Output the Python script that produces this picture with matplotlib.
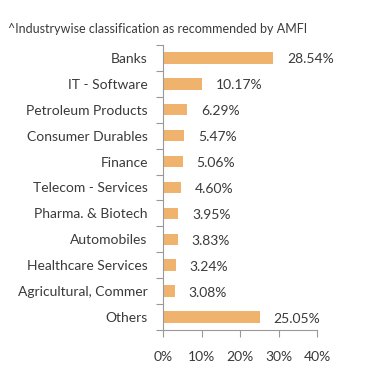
import matplotlib.pyplot as plt
import numpy as np

# sector allocation (%), top to bottom
sectors = ["Banks", "IT - Software", "Petroleum Products", "Consumer Durables",
           "Finance", "Telecom - Services", "Pharma. & Biotech", "Automobiles",
           "Healthcare Services", "Agricultural, Commer", "Others"]
weights = [28.54, 10.17, 6.29, 5.47, 5.06, 4.60, 3.95, 3.83, 3.24, 3.08, 25.05]
xticks = [0, 10, 20, 30, 40]

plt.rcParams['font.family'] = ['Lato', 'DejaVu Sans']
txt = '#3a3a3a'
grey = '#999999'

fig = plt.figure(figsize=(3.91, 3.83), dpi=100)
ax = fig.add_axes([0.417, 0.138, 0.394, 0.745])

y = np.arange(len(sectors))
ax.barh(y, weights, height=0.45, color='#F0B36E')
for yi, w in zip(y, weights):
    ax.annotate(f"{w:.2f}%", (w, yi), xytext=(10, -1), textcoords='offset points',
                va='center', ha='left', fontsize=10, color=txt)

ax.set_ylim(len(sectors) - 0.5, -0.5)
ax.set_xlim(0, 40)

# category ticks sit on the boundaries between bars
ax.set_yticks(np.arange(len(sectors) + 1) - 0.5)
ax.set_yticklabels([])
ax.set_yticks(y, minor=True)
ax.set_yticklabels(sectors, minor=True, fontsize=10, color=txt)
ax.tick_params(axis='y', which='minor', length=0, pad=11)
ax.tick_params(axis='y', which='major', length=5, color=grey)

ax.set_xticks(xticks)
ax.set_xticklabels([f"{t}%" for t in xticks], fontsize=10, color=txt)
ax.tick_params(axis='x', length=5, color=grey, pad=10)

for s in ['top', 'right']:
    ax.spines[s].set_visible(False)
for s in ['left', 'bottom']:
    ax.spines[s].set_color(grey)

fig.text(0.02, 0.925, "^Industrywise classification as recommended by AMFI",
         fontsize=9, color=txt, va='center')

fig.savefig("out.png", dpi=100)
